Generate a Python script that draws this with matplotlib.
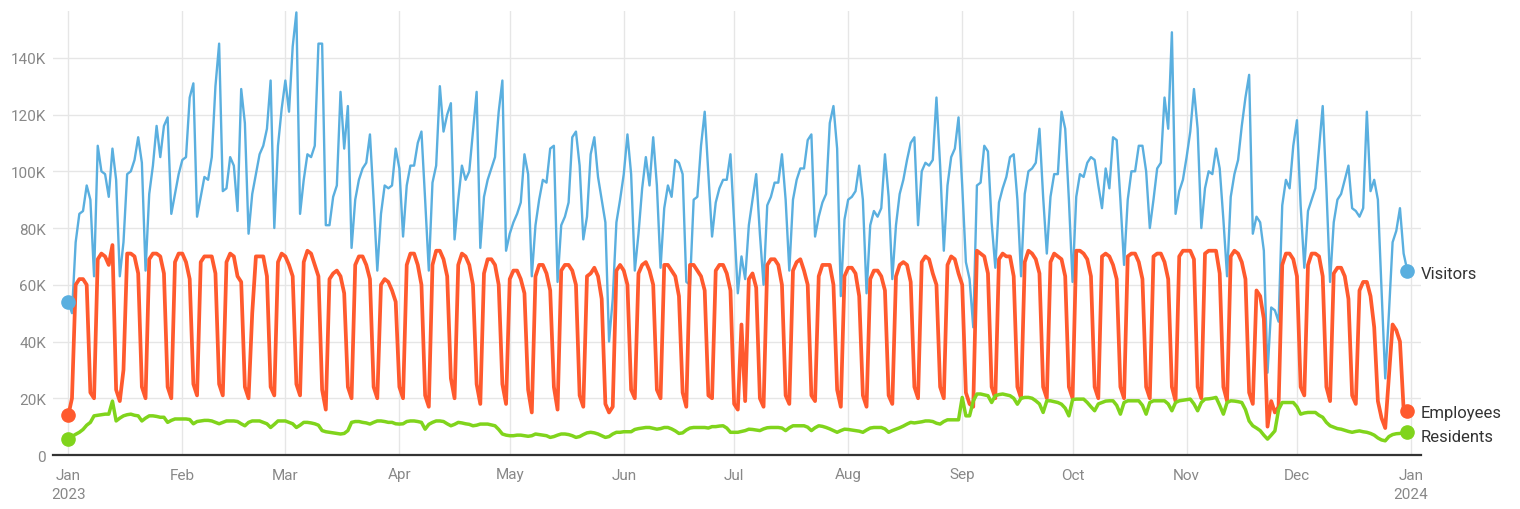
import numpy as np
import pandas as pd
import matplotlib
matplotlib.use("Agg")
import matplotlib.pyplot as plt
from matplotlib.ticker import FuncFormatter

plt.rcParams['font.family'] = ['Roboto', 'DejaVu Sans']

# ---------------- data (thousands, one value per day of 2023) ----------------
visitors_jan = [54,50,75,85,86, 95,90,63,109,100, 99,91,108,97,63, 75,99,100,104,112,
                103,65,92,102,116, 105,116,119,85,92, 99]
visitors_feb = [104,105,126,131,84, 91,98,97,105,130, 145,93,94,105,102, 86,129,117,78,92,
                99,106,109,115,132, 80,109,122]
visitors_mar = [132,121,144,156,85, 97,106,105,109,145, 145,81,81,91,95, 128,108,123,73,90,
                97,101,103,113,90, 65,85,95,94,95, 108]
visitors_apr = [101,77,95,102,102, 110,114,90,65,96, 102,130,114,120,124, 76,90,102,97,100,
                114,128,73,91,97, 101,105,121,132,72]
visitors_may = [78,82,85,89,106, 99,63,81,90,97, 96,108,109,61,81, 84,89,112,114,102,
                76,84,106,112,98, 90,82,40,55,82, 90]
visitors_jun = [99,113,99,65,78, 94,105,95,112,95, 66,87,95,91,104, 103,99,61,60,90,
                91,109,121,99,77, 89,94,97,97,106]
visitors_jul = [82,57,70,62,81, 90,99,78,60,88, 91,96,96,106,90, 65,90,97,101,101,
                111,113,77,84,89, 92,117,123,108,56, 83]
visitors_aug = [90,91,93,102,90, 57,81,86,84,87, 106,91,62,81,92, 97,104,110,112,81,
                100,103,102,104,126, 102,72,95,105,108, 119]
visitors_sep = [95,68,62,45,95, 96,109,107,82,66, 89,94,98,105,106, 90,63,92,100,101,
                103,115,91,71,91, 99,99,121,115,90]
visitors_oct = [61,91,99,98,103, 105,104,95,87,101, 94,112,111,90,67, 90,100,100,109,109,
                100,80,90,101,103, 126,115,149,85,93, 97]
visitors_nov = [105,114,129,115,80, 94,100,99,108,101, 83,63,91,99,104, 116,126,134,78,84,
                82,72,29,52,51, 47,88,97,94,109]
visitors_dec = [118,88,66,86,90, 94,108,123,94,61, 82,90,92,97,102, 87,86,84,87,121,
                93,97,90,58,27, 50,75,79,87,71, 65]

employees_jan = [14,20,60,62,62, 60,22,20,69,71, 70,67,74,23,19, 30,71,71,70,64,
                 24,20,69,71,71, 70,64,24,20,68, 71]
employees_feb = [71,68,62,25,21, 68,70,70,70,64, 25,21,68,71,70, 63,61,24,20,50,
                 70,70,70,63,24, 21,68,71]
employees_mar = [70,67,63,25,21, 68,72,71,67,63, 23,16,62,64,65, 63,57,24,20,67,
                 70,70,67,62,24, 20,60,62,61,58, 54]
employees_apr = [24,20,67,71,71, 67,60,21,17,67, 72,72,69,63,27, 20,67,71,70,67,
                 60,25,18,64,69, 69,67,60,25,18]
employees_may = [62,65,65,62,57, 23,15,63,67,67, 64,58,24,16,65, 67,67,65,60,21,
                 17,63,64,66,63, 55,18,15,17,65, 67]
employees_jun = [65,60,23,20,64, 67,68,65,60,23, 20,67,67,65,63, 56,22,17,67,67,
                 65,63,58,21,20, 65,67,67,64,58]
employees_jul = [18,16,46,19,62, 64,59,20,17,67, 69,69,67,60,21, 18,65,68,69,65,
                 60,21,19,63,67, 67,67,60,23,17, 63]
employees_aug = [66,66,64,56,21, 17,62,65,65,63, 58,21,18,63,67, 68,67,61,24,20,
                 68,70,69,64,60, 24,20,67,70,69, 64]
employees_sep = [60,22,18,17,72, 71,70,64,24,20, 69,71,70,70,63, 24,20,68,72,71,
                 69,64,24,20,68, 71,70,69,63,24]
employees_oct = [20,72,72,71,69, 63,24,20,70,71, 70,67,62,24,20, 70,71,71,68,62,
                 24,20,70,71,71, 68,62,24,19,70, 72]
employees_nov = [72,72,69,24,20, 71,72,72,72,64, 24,19,70,72,71, 68,62,22,18,58,
                 56,48,10,19,15, 17,67,71,71,69]
employees_dec = [63,24,21,67,71, 71,70,63,24,19, 64,66,66,63,55, 21,18,58,61,61,
                 56,45,19,13,9.5, 28,46,44,40,16, 15.5]

residents_jan = [5.8,6.5,7.3,8,9, 10.5,11.5,13.8,14,14.2, 14.4,14.4,19,12,13, 13.8,14.2,14.4,14,13.8,
                 12,13,13.8,13.8,13.6, 13.3,13.3,11.5,12.2,12.7, 12.7]
residents_feb = [12.7,12.7,12.5,11,11.8, 12,12.2,12.2,12,11.5, 11,11.5,12,12,12, 11.8,11,10.3,11.5,12,
                 12,12,11.5,11,9.7, 10.8,12,12]
residents_mar = [12,11.5,11,9.7,10.5, 11.5,11.5,11.3,11,10.5, 8.6,8.2,8,7.8,7.6, 7.4,7.6,8.6,11.5,11.8,
                 11.8,11.5,11.3,10.9,11.5, 12,12,11.8,11.5,11.5, 11]
residents_apr = [10.9,11,11.8,12,12, 11.8,11.5,9.1,10.8,11.5, 12,12,11.8,11,10.3, 10.8,11.5,11.3,11,10.8,
                 10.3,10.5,10.9,10.9,10.9, 10.6,10.3,9,7.4,7]
residents_may = [6.8,6.8,7,7,6.8, 6.6,6.8,7.4,7.2,7, 6.8,6.2,6.5,7,7.4, 7.4,7.2,6.8,6.2,6.5,
                 7.2,7.8,8,7.8,7.4, 6.8,6.2,6.5,7.4,8, 8]
residents_jun = [8.2,8.2,8.2,9,9.3, 9.5,9.7,9.7,9.4,9.1, 9.3,9.7,9.7,9.2,8.5, 7.6,7.8,8.8,9.5,9.7,
                 9.7,9.7,9.7,9.5,10, 10,10.2,10.3,9.5,8]
residents_jul = [8,8,8.3,8.6,9.1, 9,8.8,8.6,9.2,9.6, 9.7,9.7,9.7,9.5,8.6, 9.6,10.3,10.3,10.3,10.3,
                 9.8,8.6,9.6,10.3,10.1, 9.7,9.2,8.6,8,8.6, 9.1]
residents_aug = [9,8.8,8.6,8.4,8, 8.8,9.5,9.7,9.7,9.7, 9.2,8,8.6,9.1,9.6, 10.2,10.9,11.5,11.3,11.5,
                 11.7,12,12,11.8,11.2, 10.9,11.8,12.4,12.4,12.4, 12.4]
residents_sep = [20.3,13.8,13.8,19,21.5, 21.5,21.2,20.9,18.5,20.9, 21.3,21.5,21.2,20.9,20, 17.9,20,20.3,20.3,20,
                 19.1,18,15,19.1,19.1, 18.8,18.5,17.9,16.5,13.8]
residents_oct = [19.5,19.7,19.7,19.7,18.5, 17,15.6,18,18.5,19, 19.1,19.1,17.5,14.4,18.5, 19.1,19.1,19.1,19.1,17.5,
                 14.4,18.5,19.1,19.1,19.1, 19.1,18,15.6,18.5,19.1, 19.3]
residents_nov = [19.5,19.7,18,15.6,18.5, 19.7,19.8,20,20.3,17.5, 14.4,18.5,19.1,19,18.8, 18.5,16,12,10.3,9.5,
                 8.6,7,5.6,7,8.5, 16,18.5,18.5,18.5,18.5]
residents_dec = [17,14.4,14.8,15,15, 15,14,13.3,11.5,10.3, 9.8,9.3,9.1,8.7,8.3, 8,8.3,8.5,8.2,8,
                 7.6,7,6,5.3,5, 6.5,7.2,7.5,7.6,7.8, 8.2]

series_names = ["Visitors", "Employees", "Residents"]
series_colors = ["#5aafdf", "#ff5a2e", "#80d41c"]
month_labels = ["Jan\n2023", "Feb", "Mar", "Apr", "May", "Jun", "Jul", "Aug",
                "Sep", "Oct", "Nov", "Dec", "Jan\n2024"]
y_ticks = [0, 20000, 40000, 60000, 80000, 100000, 120000, 140000]

# ---------------- assemble ----------------
dates = pd.date_range("2023-01-01", "2023-12-31", freq="D")
visitors = np.array(visitors_jan + visitors_feb + visitors_mar + visitors_apr + visitors_may +
                    visitors_jun + visitors_jul + visitors_aug + visitors_sep + visitors_oct +
                    visitors_nov + visitors_dec, dtype=float) * 1000
employees = np.array(employees_jan + employees_feb + employees_mar + employees_apr + employees_may +
                     employees_jun + employees_jul + employees_aug + employees_sep + employees_oct +
                     employees_nov + employees_dec, dtype=float) * 1000
residents = np.array(residents_jan + residents_feb + residents_mar + residents_apr + residents_may +
                     residents_jun + residents_jul + residents_aug + residents_sep + residents_oct +
                     residents_nov + residents_dec, dtype=float) * 1000
assert len(visitors) == len(employees) == len(residents) == len(dates)

# ---------------- figure ----------------
W, H = 1520, 510
fig = plt.figure(figsize=(W / 100, H / 100), dpi=100)
left_px, right_px, top_px, bottom_px = 53, 1421, 12, 456
ax = fig.add_axes([left_px / W, 1 - bottom_px / H, (right_px - left_px) / W, (bottom_px - top_px) / H])

ax.set_xlim(dates[0] - pd.Timedelta(days=4.16), dates[-1] + pd.Timedelta(days=3.72))
ax.set_ylim(0, 156500)

# grid
month_starts = pd.date_range("2023-01-01", "2024-01-01", freq="MS")
ax.set_xticks(month_starts)
ax.set_xticklabels(month_labels, linespacing=1.5)
ax.set_yticks(y_ticks)
ax.yaxis.set_major_formatter(FuncFormatter(lambda v, p: "0" if v == 0 else f"{int(round(v / 1000))}K"))
ax.grid(True, color="#e6e6e6", linewidth=1.0)
ax.set_axisbelow(True)

for s in ["top", "right", "left"]:
    ax.spines[s].set_visible(False)
ax.spines["bottom"].set_color("#333333")
ax.spines["bottom"].set_linewidth(1.6)
ax.spines["bottom"].set_zorder(5)

ax.tick_params(axis="both", length=0, labelsize=11, labelcolor="#888888")
ax.tick_params(axis="x", pad=9)
ax.tick_params(axis="y", pad=5)

data = [visitors, employees, residents]
widths = [1.7, 2.7, 2.5]
label_offsets = [-2.0, -1.0, -3.5]
for vals, name, col, lw, dy in zip(data, series_names, series_colors, widths, label_offsets):
    ax.plot(dates, vals, color=col, linewidth=lw, solid_joinstyle="round", clip_on=False, zorder=3)
    ax.plot([dates[0], dates[-1]], [vals[0], vals[-1]], "o", color=col, markersize=9.5,
            clip_on=False, zorder=4)
    ax.annotate(name, xy=(dates[-1], vals[-1]), xytext=(9.5, dy), textcoords="offset points",
                ha="left", va="center", fontsize=12, color="#333333", annotation_clip=False)

fig.savefig("out.png", dpi=100)
